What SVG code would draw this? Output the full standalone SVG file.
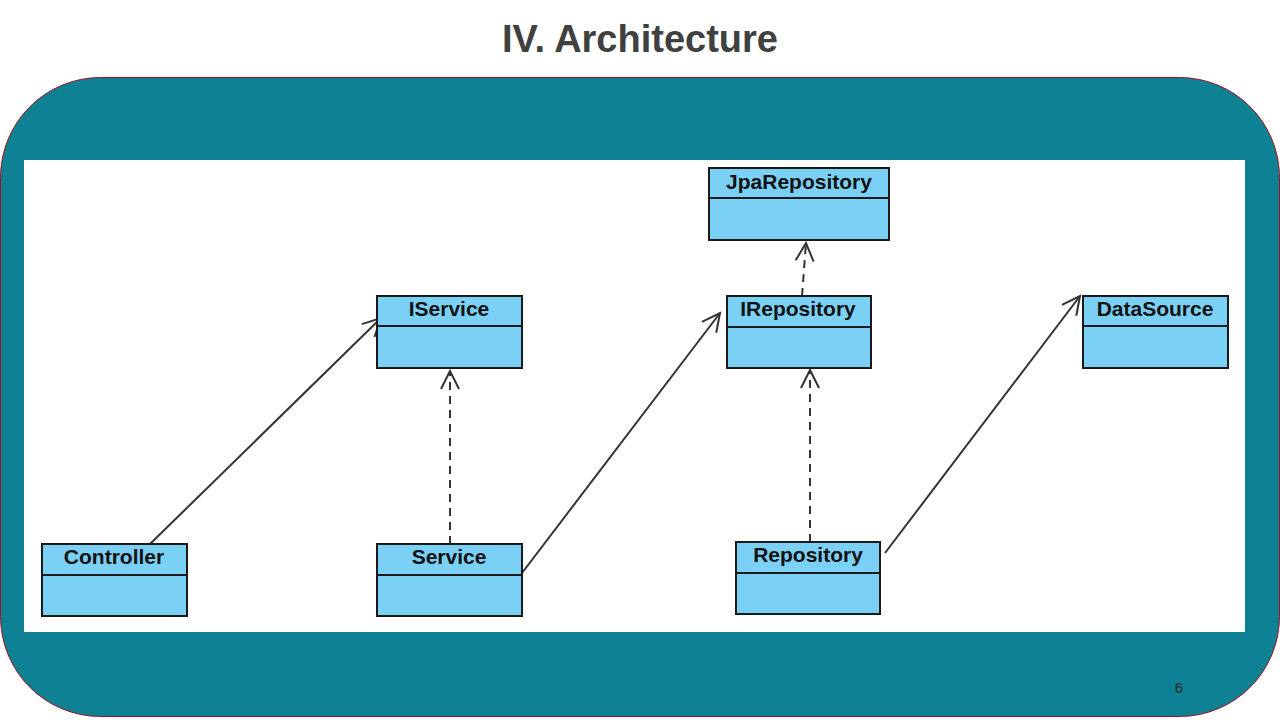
<svg xmlns="http://www.w3.org/2000/svg" width="1280" height="720" viewBox="0 0 1280 720">
<style>
.box{fill:#7bd0f5;stroke:#1a1a1a;stroke-width:2}
.div{stroke:#1a1a1a;stroke-width:2}
.lbl{font-family:"Liberation Sans",Arial,sans-serif;font-weight:bold;font-size:21px;fill:#111;text-anchor:middle}
.c{stroke:#333;stroke-width:2;fill:none}
.d{stroke-dasharray:8,6}
</style>
<defs>
<marker id="ar" viewBox="0 0 22 22" refX="20" refY="11" markerWidth="22" markerHeight="22" markerUnits="userSpaceOnUse" orient="auto">
<path d="M2,2 L20,11 L2,20" fill="none" stroke="#333" stroke-width="2"/>
</marker>
</defs>
<rect width="1280" height="720" fill="#fff"/>
<text x="640" y="52" font-family="'Liberation Sans',Arial,sans-serif" font-weight="bold" font-size="38" fill="#404040" text-anchor="middle">IV. Architecture</text>
<rect x="0.5" y="77.5" width="1279" height="639" rx="100" ry="100" fill="#0e8294" stroke="#a01020" stroke-width="1"/>
<rect x="24" y="160" width="1221" height="472" fill="#fff"/>
<text x="1179" y="693" font-family="'Liberation Sans',Arial,sans-serif" font-size="15" fill="#222" text-anchor="middle">6</text>
<g id="connectors">
<line class="c" x1="150" y1="544" x2="381" y2="318" marker-end="url(#ar)"/>
<line class="c d" x1="450" y1="544" x2="450" y2="371" marker-end="url(#ar)"/>
<line class="c" x1="522" y1="573" x2="720" y2="313" marker-end="url(#ar)"/>
<line class="c d" x1="810" y1="542" x2="810" y2="370" marker-end="url(#ar)"/>
<line class="c d" x1="802" y1="296" x2="806" y2="243" marker-end="url(#ar)"/>
<line class="c" x1="885" y1="553" x2="1080" y2="296" marker-end="url(#ar)"/>
</g>
<g id="JpaRepository"><rect class="box" x="709" y="168" width="180" height="72"/><line class="div" x1="709" y1="198" x2="889" y2="198"/><text class="lbl" x="799" y="189">JpaRepository</text></g>
<g id="IService"><rect class="box" x="377" y="296" width="145" height="72"/><line class="div" x1="377" y1="326" x2="522" y2="326"/><text class="lbl" x="449" y="316">IService</text></g>
<g id="IRepository"><rect class="box" x="727" y="296" width="144" height="72"/><line class="div" x1="727" y1="327" x2="871" y2="327"/><text class="lbl" x="798" y="316">IRepository</text></g>
<g id="DataSource"><rect class="box" x="1083" y="296" width="145" height="72"/><line class="div" x1="1083" y1="326" x2="1228" y2="326"/><text class="lbl" x="1155" y="316">DataSource</text></g>
<g id="Controller"><rect class="box" x="42" y="544" width="145" height="72"/><line class="div" x1="42" y1="575" x2="187" y2="575"/><text class="lbl" x="114" y="564">Controller</text></g>
<g id="Service"><rect class="box" x="377" y="544" width="145" height="72"/><line class="div" x1="377" y1="575" x2="522" y2="575"/><text class="lbl" x="449" y="564">Service</text></g>
<g id="Repository"><rect class="box" x="736" y="542" width="144" height="72"/><line class="div" x1="736" y1="573" x2="880" y2="573"/><text class="lbl" x="808" y="562">Repository</text></g>
</svg>
